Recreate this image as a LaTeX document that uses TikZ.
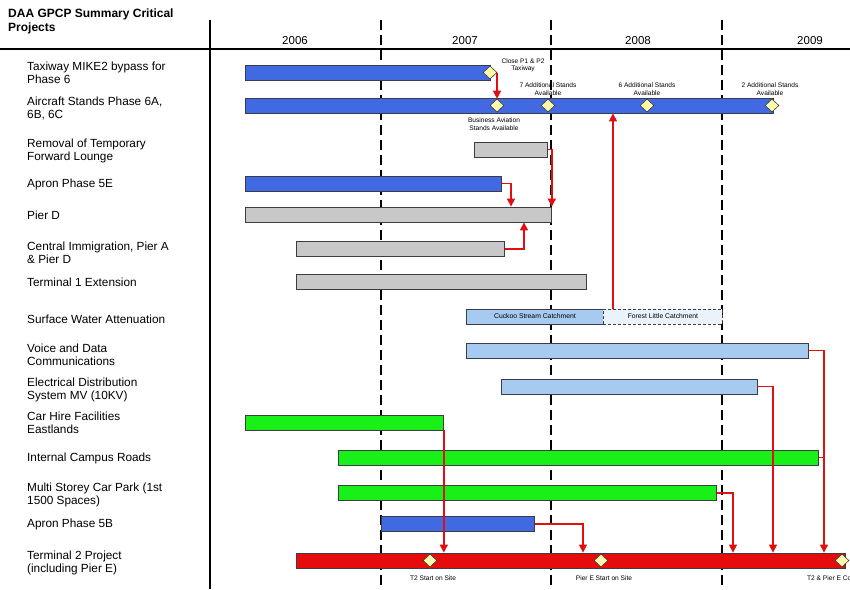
\documentclass[tikz,border=0pt]{standalone}
\usepackage{fontspec}
\setmainfont{Liberation Sans}
\usetikzlibrary{arrows.meta,shapes.geometric}
\definecolor{cblue}{RGB}{65,105,225}
\definecolor{cgray}{RGB}{200,200,200}
\definecolor{clblue}{RGB}{166,202,240}
\definecolor{cpale}{RGB}{234,242,251}
\definecolor{cgreen}{RGB}{24,240,24}
\definecolor{cred}{RGB}{230,12,12}
\definecolor{cdia}{RGB}{255,250,170}
\definecolor{barline}{RGB}{60,60,70}
\definecolor{connred}{RGB}{225,15,15}
\tikzset{
  bar/.style={draw=barline, line width=0.8pt, anchor=west, minimum height=15pt, inner sep=0pt},
  lbl/.style={anchor=west, align=left, font=\fontsize{11.8}{13}\selectfont, inner sep=0pt},
  note/.style={align=center, font=\fontsize{6.6}{7.4}\selectfont, inner sep=0pt},
  bartext/.style={font=\fontsize{6.8}{7.5}\selectfont},
  yr/.style={font=\fontsize{11.5}{13}\selectfont, inner sep=0pt},
  mile/.style={diamond, draw=barline, fill=cdia, line width=0.6pt, minimum width=14pt, minimum height=13pt, inner sep=0pt},
  conn/.style={draw=connred, line width=1.4pt},
  arr/.style={conn, -{Triangle[length=8pt,width=8pt]}},
  gridline/.style={line width=1.5pt, black},
  yeardash/.style={gridline, dash pattern=on 10pt off 5pt}
}
\begin{document}
\begin{tikzpicture}[x=1pt,y=-1pt]
\useasboundingbox (0,0) rectangle (850,589);
\clip (0,0) rectangle (850,589);
\fill[white] (0,0) rectangle (850,589);
% grid
\draw[gridline] (0,49) -- (850,49);
\draw[gridline] (210,20) -- (210,589);
\draw[yeardash] (381,20) -- (381,589);
\draw[yeardash] (551,20) -- (551,589);
\draw[yeardash] (722,20) -- (722,589);
% title and years
\node[anchor=north west, align=left, inner sep=0pt, font=\bfseries\fontsize{12}{14}\selectfont] (title) at (8,9) {DAA GPCP Summary Critical\\Projects};
\node[yr] (y2006) at (295,41) {2006};
\node[yr] (y2007) at (465,41) {2007};
\node[yr] (y2008) at (638,41) {2008};
\node[yr] (y2009) at (810,41) {2009};
% labels
\node[lbl] (l1) at (27,73) {Taxiway MIKE2 bypass for\\Phase 6};
\node[lbl] (l2) at (27,108.5) {Aircraft Stands Phase 6A,\\6B, 6C};
\node[lbl] (l3) at (27,151) {Removal of Temporary\\Forward Lounge};
\node[lbl] (l4) at (27,184) {Apron Phase 5E};
\node[lbl] (l5) at (27,215.5) {Pier D};
\node[lbl] (l6) at (27,253) {Central Immigration, Pier A\\\& Pier D};
\node[lbl] (l7) at (27,282) {Terminal 1 Extension};
\node[lbl] (l8) at (27,319) {Surface Water Attenuation};
\node[lbl] (l9) at (27,354.5) {Voice and Data\\Communications};
\node[lbl] (l10) at (27,389.5) {Electrical Distribution\\System MV (10KV)};
\node[lbl] (l11) at (27,423) {Car Hire Facilities\\Eastlands};
\node[lbl] (l12) at (27,458) {Internal Campus Roads};
\node[lbl] (l13) at (27,494.5) {Multi Storey Car Park (1st\\1500 Spaces)};
\node[lbl] (l14) at (27,524) {Apron Phase 5B};
\node[lbl] (l15) at (27,563) {Terminal 2 Project\\(including Pier E)};
% bars
\node[bar, fill=cblue, minimum width=245pt] (taxi) at (245,72.5) {};
\node[bar, fill=cblue, minimum width=528pt] (stands) at (245,105.5) {};
\node[bar, fill=cgray, minimum width=73pt] (remov) at (474,149.5) {};
\node[bar, fill=cblue, minimum width=256pt] (a5e) at (245,183.5) {};
\node[bar, fill=cgray, minimum width=306pt] (pierd) at (245,214.5) {};
\node[bar, fill=cgray, minimum width=208pt] (cim) at (296,249) {};
\node[bar, fill=cgray, minimum width=290pt] (t1) at (296,281.5) {};
\node[bar, fill=clblue, minimum width=137pt, bartext] (cuckoo) at (466,316.5) {Cuckoo Stream Catchment};
\node[bar, fill=cpale, densely dashed, minimum width=119pt, bartext] (forest) at (603,316.5) {Forest Little Catchment};
\node[bar, fill=clblue, minimum width=342pt] (voice) at (466,350.5) {};
\node[bar, fill=clblue, minimum width=256pt] (elec) at (501,386.5) {};
\node[bar, fill=cgreen, minimum width=198pt] (carhire) at (245,422.5) {};
\node[bar, fill=cgreen, minimum width=480pt] (icr) at (338,457.5) {};
\node[bar, fill=cgreen, minimum width=378pt] (msc) at (338,493) {};
\node[bar, fill=cblue, minimum width=153pt] (a5b) at (381,524) {};
\node[bar, fill=cred, minimum width=549pt] (t2) at (296,560.5) {};
% milestones
\node[mile] (dtaxi) at (490,72.5) {};
\node[mile] (dbus) at (497,105.5) {};
\node[mile] (d7) at (548,105.5) {};
\node[mile] (d6) at (647,105.5) {};
\node[mile] (d2) at (772,105.5) {};
\node[mile] (dt2s) at (430,560.5) {};
\node[mile] (dpe) at (601,560.5) {};
\node[mile] (dcomp) at (842,560.5) {};
% milestone notes
\node[note] (nclose) at (523,65) {Close P1 \& P2\\Taxiway};
\node[note] (n7) at (548,89) {7 Additional Stands\\Available};
\node[note] (n6) at (647,89) {6 Additional Stands\\Available};
\node[note] (n2) at (770,89) {2 Additional Stands\\Available};
\node[note] (nbus) at (494,124) {Business Aviation\\Stands Available};
\node[note] (nt2s) at (433,578) {T2 Start on Site};
\node[note] (npe) at (604,578) {Pier E Start on Site};
\node[note, anchor=west] (ncomp) at (807,578) {T2 \& Pier E Co};
% connectors
\draw[arr] (dbus.north |- dtaxi.center) -- (dbus.north);
\draw[arr] (remov.east) -| (pierd.north east);
\draw[arr] (a5e.east) -| (pierd.north -| 511,0);
\draw[arr] (cim.east) -| (pierd.south -| 524,0);
\draw[arr] (cuckoo.north -| 613,0) -- (stands.south -| 613,0);
\draw[arr] (voice.east) -| (t2.north -| 824,0);
\draw[conn] (icr.east) -- (icr.east -| 824,0);
\draw[arr] (elec.east) -| (t2.north -| 773,0);
\draw[arr] (carhire.south east) -- (carhire.south east |- t2.north);
\draw[arr] (msc.east) -| (t2.north -| 733,0);
\draw[arr] (a5b.east) -| (t2.north -| 583,0);
\end{tikzpicture}
\end{document}
